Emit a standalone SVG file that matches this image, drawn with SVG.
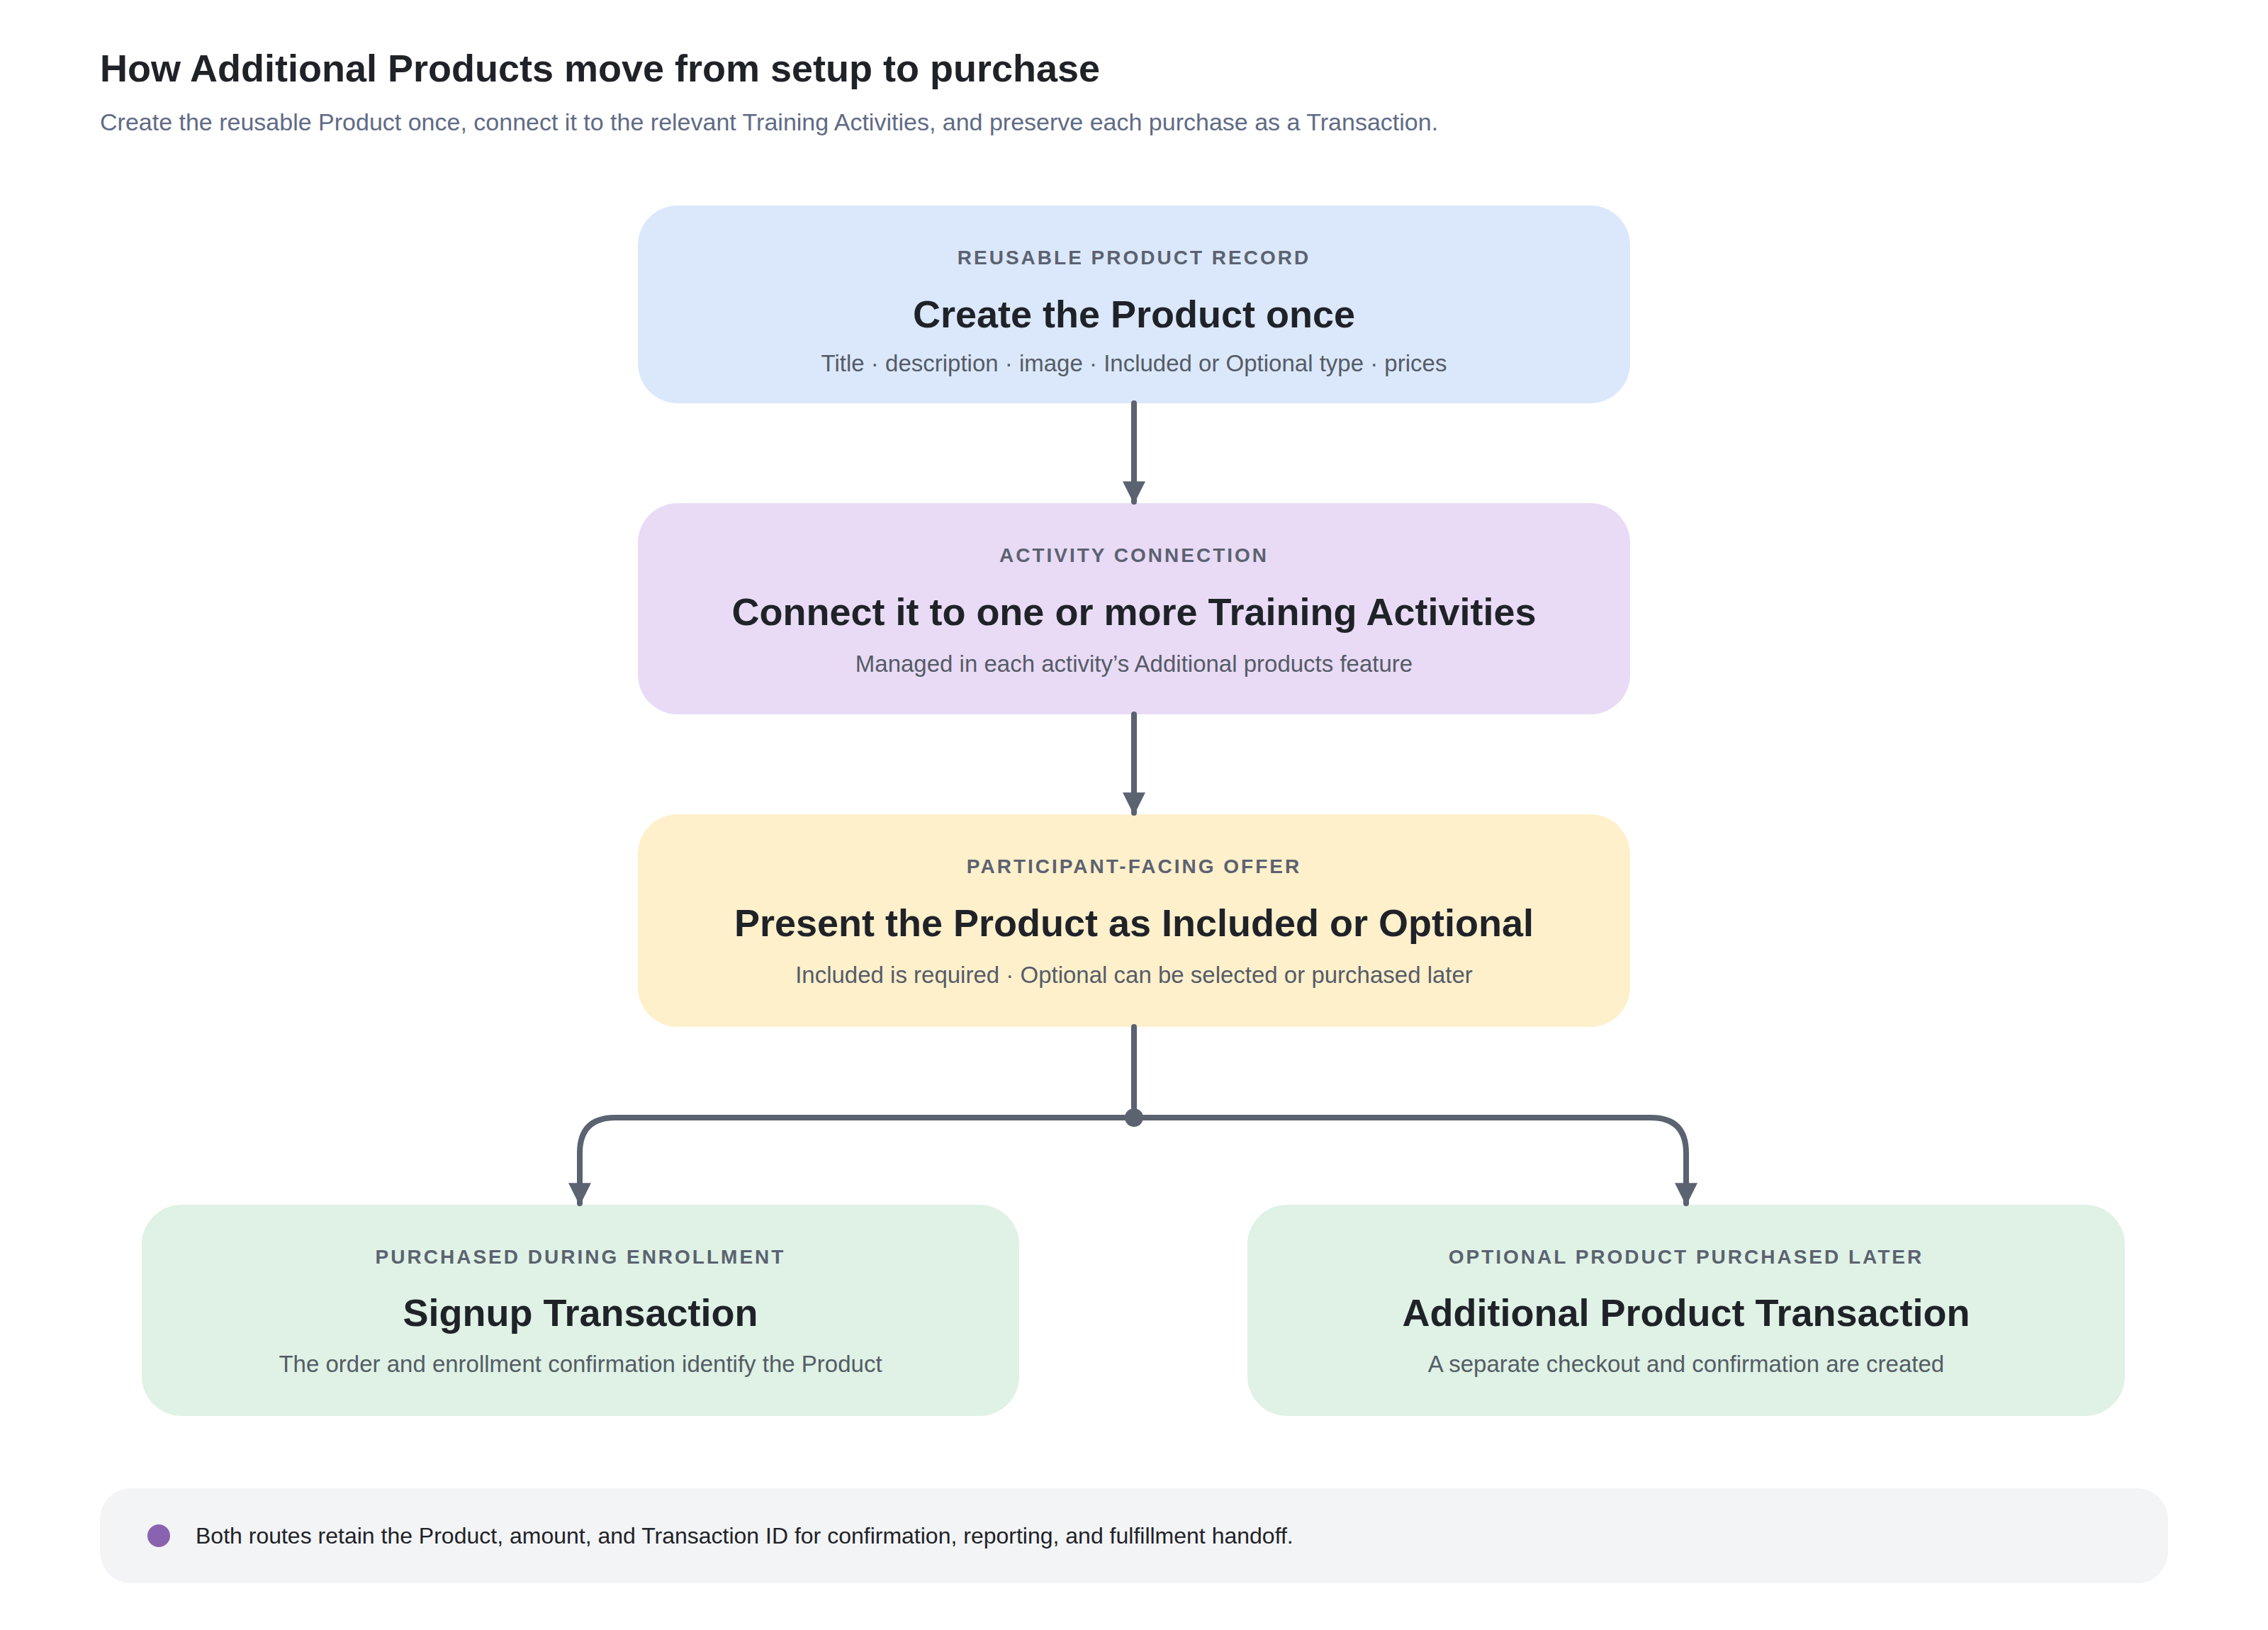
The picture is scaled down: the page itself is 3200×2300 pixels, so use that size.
<svg xmlns="http://www.w3.org/2000/svg" width="3200" height="2300" viewBox="0 0 3200 2300">
<style>
text{font-family:"Liberation Sans",Arial,sans-serif}
.h{font-size:54px;font-weight:bold;fill:#1f2328}
.s{font-size:34px;fill:#5f6b85}
.lb{font-size:28px;font-weight:bold;fill:#5b6270;letter-spacing:3px;text-anchor:middle}
.t{font-size:54px;font-weight:bold;fill:#1f2328;text-anchor:middle}
.d{font-size:33px;fill:#555c66;text-anchor:middle}
.c{fill:none;stroke:#5b6270;stroke-width:8;stroke-linecap:round}
</style>
<defs><marker id="a" viewBox="0 0 10 10" refX="9" refY="5" markerWidth="4" markerHeight="4" orient="auto" markerUnits="strokeWidth"><path d="M0,0L10,5L0,10z" fill="#5b6270"/></marker></defs>
<rect width="3200" height="2300" fill="#fff"/>
<text x="141" y="115" class="h">How Additional Products move from setup to purchase</text>
<text x="141" y="184" class="s">Create the reusable Product once, connect it to the relevant Training Activities, and preserve each purchase as a Transaction.</text>
<g id="n1"><rect x="900" y="290" width="1400" height="279" rx="56" fill="#dbe8fb"/>
<text x="1600" y="373" class="lb">REUSABLE PRODUCT RECORD</text>
<text x="1600" y="462" class="t">Create the Product once</text>
<text x="1600" y="524" class="d">Title · description · image · Included or Optional type · prices</text></g>
<g id="n2"><rect x="900" y="710" width="1400" height="298" rx="56" fill="#e9dbf6"/>
<text x="1600" y="793" class="lb">ACTIVITY CONNECTION</text>
<text x="1600" y="882" class="t">Connect it to one or more Training Activities</text>
<text x="1600" y="948" class="d">Managed in each activity’s Additional products feature</text></g>
<g id="n3"><rect x="900" y="1149" width="1400" height="300" rx="56" fill="#fff0cc"/>
<text x="1600" y="1232" class="lb">PARTICIPANT-FACING OFFER</text>
<text x="1600" y="1321" class="t">Present the Product as Included or Optional</text>
<text x="1600" y="1387" class="d">Included is required · Optional can be selected or purchased later</text></g>
<g id="n4"><rect x="200" y="1700" width="1238" height="298" rx="56" fill="#dff2e5"/>
<text x="819" y="1783" class="lb">PURCHASED DURING ENROLLMENT</text>
<text x="819" y="1871" class="t">Signup Transaction</text>
<text x="819" y="1936" class="d">The order and enrollment confirmation identify the Product</text></g>
<g id="n5"><rect x="1760" y="1700" width="1238" height="298" rx="56" fill="#dff2e5"/>
<text x="2379" y="1783" class="lb">OPTIONAL PRODUCT PURCHASED LATER</text>
<text x="2379" y="1871" class="t">Additional Product Transaction</text>
<text x="2379" y="1936" class="d">A separate checkout and confirmation are created</text></g>
<g id="connectors">
<path class="c" d="M1600,569V708" marker-end="url(#a)"/>
<path class="c" d="M1600,1008V1147" marker-end="url(#a)"/>
<path class="c" d="M1600,1449V1577"/>
<path class="c" d="M1600,1577H868Q818,1577 818,1627V1698" marker-end="url(#a)"/>
<path class="c" d="M1600,1577H2329Q2379,1577 2379,1627V1698" marker-end="url(#a)"/>
<circle cx="1600" cy="1577" r="13" fill="#5b6270"/>
</g>
<g id="footer"><rect x="141" y="2100" width="2918" height="134" rx="44" fill="#f3f4f6"/>
<circle cx="224" cy="2167" r="16" fill="#8a63b0"/>
<text x="276" y="2178" font-size="32" fill="#1f2328">Both routes retain the Product, amount, and Transaction ID for confirmation, reporting, and fulfillment handoff.</text></g>
</svg>
